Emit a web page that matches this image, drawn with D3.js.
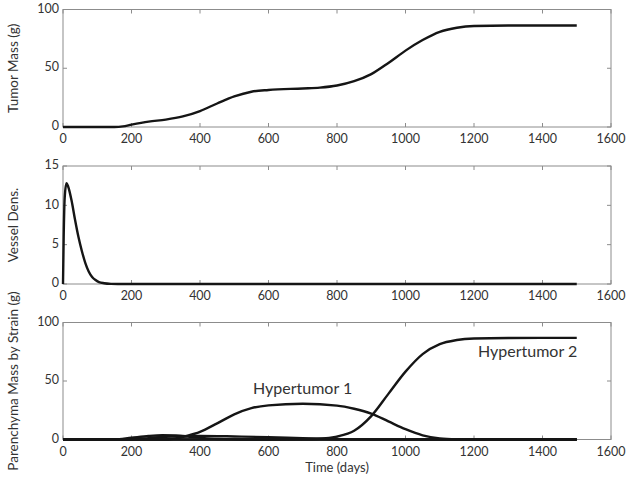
<!DOCTYPE html>
<html><head><meta charset="utf-8">
<script src="https://cdn.jsdelivr.net/npm/d3@7"></script>
<style>body{margin:0;background:#fff}svg{display:block}text{font-family:Lato,"Open Sans",sans-serif;fill:#333}</style>
</head><body><svg id="c" width="626" height="481"></svg>
<script>
const xTicks=[0,200,400,600,800,1000,1200,1400,1600];
const tumorT=[0,100,150,175,200,250,300,350,400,450,500,550,600,700,750,800,850,900,950,1000,1050,1100,1150,1200,1300,1500];
const tumorV=[0,0,0,0.5,2,4.6,6.3,9,13.6,20,26,30,31.5,32.8,33.5,35.3,39,45,54.5,65,74,81,84.5,86,86.4,86.4];
const vesselT=[0,2,5,10,15,25,35,45,55,65,75,85,95,105,120,140,160,1500];
const vesselV=[0,6,11,12.8,12.4,10.6,8.2,6,4.2,2.7,1.6,0.9,0.5,0.25,0.1,0.02,0,0];
const h1T=[0,300,340,361,400,450,500,550,600,700,800,850,900,950,1000,1050,1100,1150,1200,1500];
const h1V=[0,0,1.5,3,6.5,13.8,21.5,26.8,29.2,30.5,29,26.3,22.2,15.5,8.8,3.6,1,0.2,0,0];
const h2T=[0,600,700,750,800,850,900,950,1000,1050,1100,1150,1200,1300,1500];
const h2V=[0,0,0.2,0.6,2.5,7.5,20,39,58,73,81.5,85,86.3,86.8,86.9];
const sAT=[0,150,200,250,290,330,370,420,470,520,1500];
const sAV=[0,0,1.5,3,3.6,3.4,2.4,1,0.3,0,0];
const sBT=[0,180,250,300,400,500,600,700,800,900,1500];
const sBV=[0,0,1.2,2.4,3,2.6,2,1.1,0.4,0,0];
const zeroT=[0,1500];
const zeroV=[0,0];

const svg=d3.select("#c");
const x0=63,x1=611;
const x=d3.scaleLinear().domain([0,1600]).range([x0,x1]);

function panel(top,bottom,ymax,yticks,label,series){
  const y=d3.scaleLinear().domain([0,ymax]).range([bottom,top]);
  const g=svg.append("g");
  g.append("rect").attr("x",x0).attr("y",top).attr("width",x1-x0).attr("height",bottom-top)
   .attr("fill","none").attr("stroke","#8c8c8c").attr("stroke-width",1);
  const tl=4;
  xTicks.forEach(t=>{
    g.append("line").attr("x1",x(t)).attr("x2",x(t)).attr("y1",bottom).attr("y2",bottom-tl).attr("stroke","#8c8c8c");
    g.append("line").attr("x1",x(t)).attr("x2",x(t)).attr("y1",top).attr("y2",top+tl).attr("stroke","#8c8c8c");
    g.append("text").attr("x",x(t)).attr("y",bottom+13).attr("text-anchor","middle").attr("dominant-baseline","middle").attr("font-size",12.5).text(t);
  });
  yticks.forEach(v=>{
    g.append("line").attr("x1",x0).attr("x2",x0+tl).attr("y1",y(v)).attr("y2",y(v)).attr("stroke","#8c8c8c");
    g.append("line").attr("x1",x1).attr("x2",x1-tl).attr("y1",y(v)).attr("y2",y(v)).attr("stroke","#8c8c8c");
    g.append("text").attr("x",x0-4).attr("y",y(v)).attr("text-anchor","end").attr("dominant-baseline","middle").attr("font-size",12.5).text(v);
  });
  g.append("text").attr("transform",`translate(15,${(top+bottom)/2}) rotate(-90)`)
   .attr("text-anchor","middle").attr("dominant-baseline","middle").attr("font-size",13.5).text(label);
  const line=d3.line().x(d=>x(d[0])).y(d=>y(d[1])).curve(d3.curveMonotoneX);
  series.forEach(s=>{
    g.append("path").datum(s[0].map((t,i)=>[t,s[1][i]])).attr("d",line)
     .attr("fill","none").attr("stroke","#151515").attr("stroke-width",2.4);
  });
  return y;
}

panel(9.5,127,100,[0,50,100],"Tumor Mass (g)",[[tumorT,tumorV]]);
panel(166,284,15,[0,5,10,15],"Vessel Dens.",[[vesselT,vesselV]]);
panel(322.5,439.5,100,[0,50,100],"Parenchyma Mass by Strain (g)",
  [[zeroT,zeroV],[sAT,sAV],[sBT,sBV],[h1T,h1V],[h2T,h2V]]);
svg.append("text").attr("x",x(800)).attr("y",469).attr("text-anchor","middle").attr("dominant-baseline","middle").attr("font-size",13).text("Time (days)");
svg.append("text").attr("x",253).attr("y",390).attr("dominant-baseline","middle").attr("font-size",16).text("Hypertumor 1");
svg.append("text").attr("x",478).attr("y",353).attr("dominant-baseline","middle").attr("font-size",16).text("Hypertumor 2");
</script></body></html>
